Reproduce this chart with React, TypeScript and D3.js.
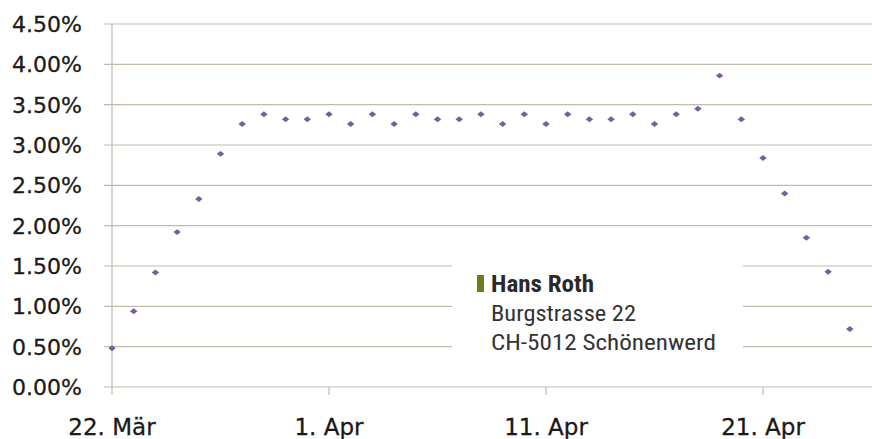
import React, { useEffect, useRef } from 'react'
import * as d3 from 'd3'

// Tage (22. März bis 25. April) und Werte in Prozent
const dates = [
    '2011-03-22', '2011-03-23', '2011-03-24', '2011-03-25', '2011-03-26', '2011-03-27', '2011-03-28',
    '2011-03-29', '2011-03-30', '2011-03-31', '2011-04-01', '2011-04-02', '2011-04-03', '2011-04-04',
    '2011-04-05', '2011-04-06', '2011-04-07', '2011-04-08', '2011-04-09', '2011-04-10', '2011-04-11',
    '2011-04-12', '2011-04-13', '2011-04-14', '2011-04-15', '2011-04-16', '2011-04-17', '2011-04-18',
    '2011-04-19', '2011-04-20', '2011-04-21', '2011-04-22', '2011-04-23', '2011-04-24', '2011-04-25'
]
const values = [
    0.48, 0.94, 1.42, 1.92, 2.33, 2.89, 3.26,
    3.38, 3.32, 3.32, 3.38, 3.26, 3.38, 3.26,
    3.38, 3.32, 3.32, 3.38, 3.26, 3.38, 3.26,
    3.38, 3.32, 3.32, 3.38, 3.26, 3.38, 3.45,
    3.86, 3.32, 2.84, 2.40, 1.85, 1.43, 0.72
]
const xTickDates = ['2011-03-22', '2011-04-01', '2011-04-11', '2011-04-21']
const xTickLabels = ['22. Mär', '1. Apr', '11. Apr', '21. Apr']
const yTicks = [0, 0.5, 1, 1.5, 2, 2.5, 3, 3.5, 4, 4.5]
const addressLines = ['Hans Roth', 'Burgstrasse 22', 'CH-5012 Schönenwerd']

const W = 872, H = 439

const App = () => {
    const ref = useRef<SVGSVGElement>(null)

    useEffect(() => {
        const svg = d3.select(ref.current)
        svg.selectAll('*').remove()

        const parse = d3.utcParse('%Y-%m-%d')
        const x = d3.scaleUtc()
            .domain([parse('2011-03-22')!, parse('2011-04-26')!])
            .range([112, 871.5])
        const y = d3.scaleLinear().domain([0, 4.5]).range([387, 24])

        const gridColor = '#c4b9ad'

        // Gitterlinien (inkl. kleiner Überstand links)
        svg.append('g').selectAll('line').data(yTicks).join('line')
            .attr('x1', 104).attr('x2', W)
            .attr('y1', d => y(d)).attr('y2', d => y(d))
            .attr('stroke', gridColor).attr('stroke-width', 1.2)

        // y-Achse
        svg.append('line')
            .attr('x1', x.range()[0]).attr('x2', x.range()[0])
            .attr('y1', y(4.5)).attr('y2', y(0) + 8)
            .attr('stroke', gridColor).attr('stroke-width', 1.2)

        // x-Ticks
        svg.append('g').selectAll('line').data(xTickDates.slice(1)).join('line')
            .attr('x1', d => x(parse(d)!)).attr('x2', d => x(parse(d)!))
            .attr('y1', y(0)).attr('y2', y(0) + 8)
            .attr('stroke', gridColor).attr('stroke-width', 1.2)

        // y-Beschriftung
        svg.append('g').selectAll('text').data(yTicks).join('text')
            .attr('x', 82).attr('y', d => y(d) + 8)
            .attr('text-anchor', 'end')
            .attr('font-family', 'DejaVu Sans, sans-serif')
            .attr('font-size', 22)
            .attr('fill', '#1c1917')
            .attr('stroke', '#1c1917').attr('stroke-width', 0.3)
            .text(d => d3.format('.2f')(d) + '%')

        // x-Beschriftung
        svg.append('g').selectAll('text').data(xTickDates).join('text')
            .attr('x', d => x(parse(d)!)).attr('y', 435)
            .attr('text-anchor', 'middle')
            .attr('font-family', 'DejaVu Sans, sans-serif')
            .attr('font-size', 23)
            .attr('fill', '#1c1917')
            .attr('stroke', '#1c1917').attr('stroke-width', 0.3)
            .text((d, i) => xTickLabels[i])

        // Punkte (Rauten)
        const diamond = d3.symbol().type(d3.symbolSquare).size(28)
        svg.append('g').selectAll('path').data(values).join('path')
            .attr('d', diamond)
            .attr('transform', (d, i) => `translate(${x(parse(dates[i])!)},${y(d)}) scale(1,0.8) rotate(45)`)
            .attr('fill', '#74609e')

        // Adressblock deckt Gitter ab
        svg.append('rect')
            .attr('x', 452).attr('y', 252).attr('width', 291).attr('height', 128)
            .attr('fill', '#fff')
        svg.append('rect')
            .attr('x', 477).attr('y', 275).attr('width', 7).attr('height', 17)
            .attr('fill', '#6c7d1c')

        const fam = 'Liberation Sans Narrow, Roboto Condensed, Arial Narrow, sans-serif'
        const widths = [103, 145, 225]
        svg.append('g').selectAll('text').data(addressLines).join('text')
            .attr('x', 491)
            .attr('y', (d, i) => 292 + i * 29)
            .attr('font-family', fam)
            .attr('font-size', (d, i) => i === 0 ? 23 : 22)
            .attr('font-weight', (d, i) => i === 0 ? 'bold' : 'normal')
            .attr('fill', (d, i) => i === 0 ? '#2a2a2a' : '#333')
            .attr('textLength', (d, i) => widths[i])
            .attr('lengthAdjust', 'spacingAndGlyphs')
            .text(d => d)
    }, [])

    return (
        <div style={{ position: 'fixed', left: 0, top: 0, background: '#fff' }}>
            <svg ref={ref} width={W} height={H} />
        </div>
    )
}

export default App
